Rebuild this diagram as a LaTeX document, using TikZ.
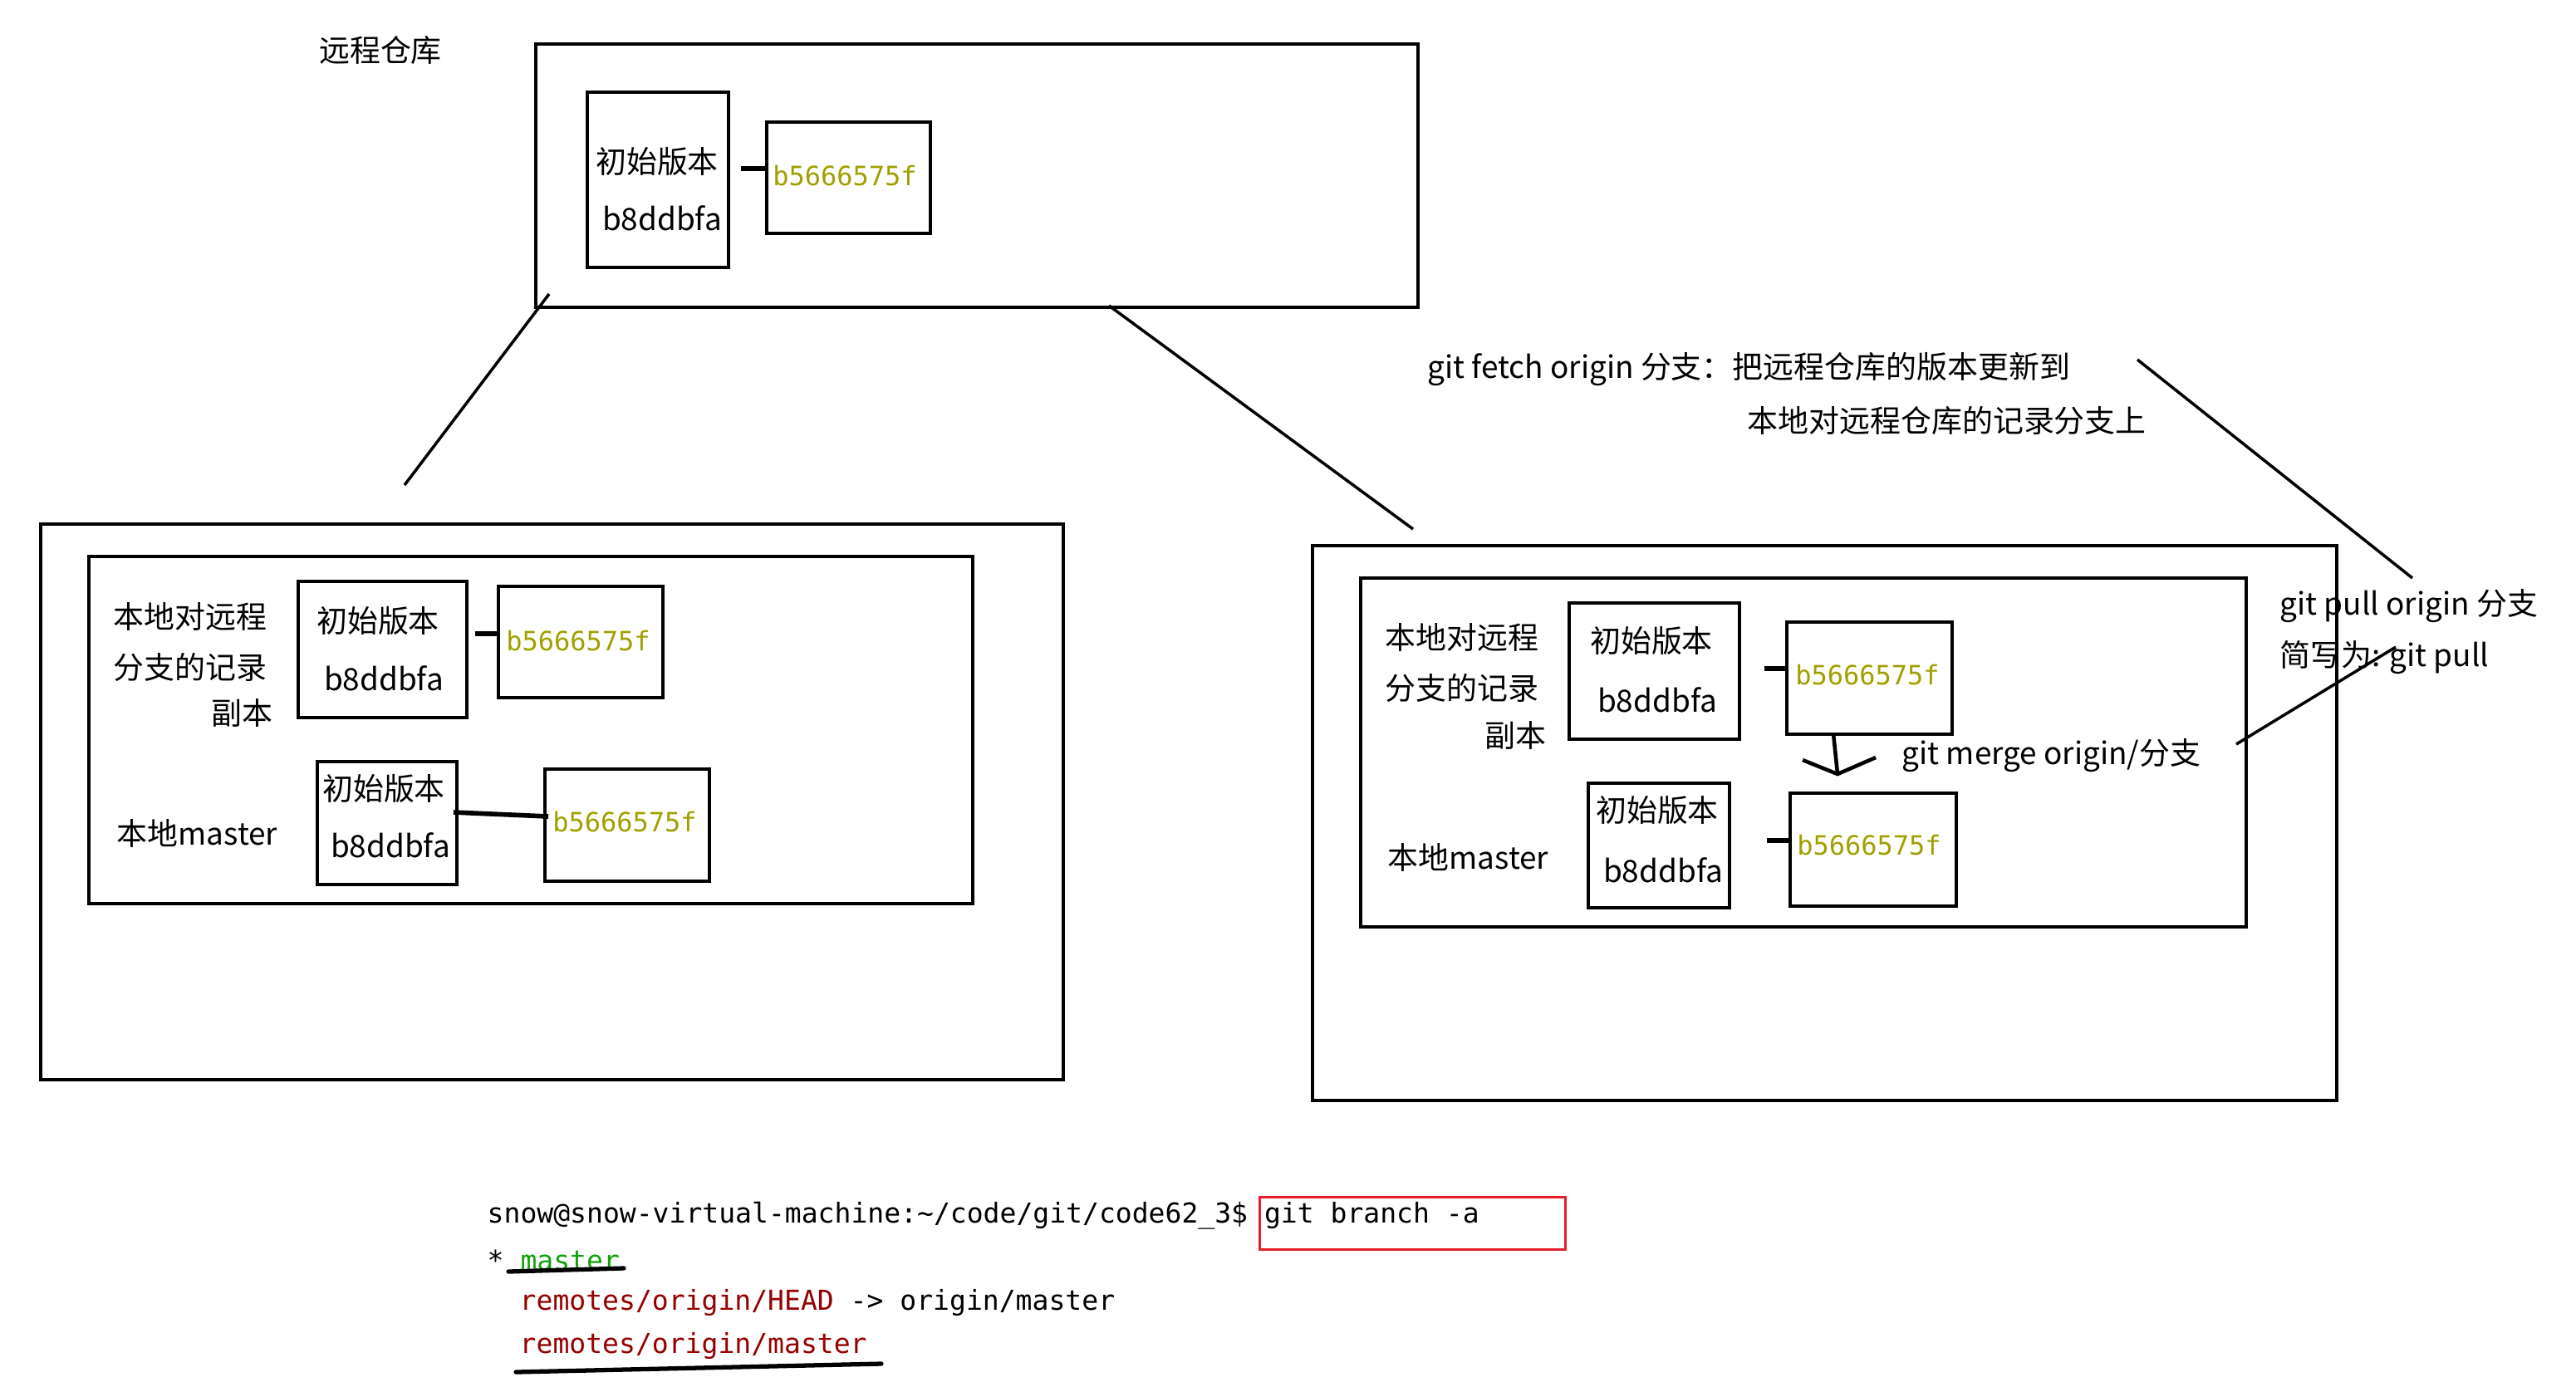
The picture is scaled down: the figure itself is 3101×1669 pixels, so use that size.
\documentclass[tikz,border=0pt]{standalone}
\usepackage{fontspec}
\setmainfont{Noto Sans CJK SC}
\newfontfamily\monof{DejaVu Sans Mono}
\definecolor{hashol}{RGB}{160,160,0}
\definecolor{termgreen}{RGB}{19,161,14}
\definecolor{termred}{RGB}{150,0,0}
\definecolor{boxred}{RGB}{230,30,40}
\newcommand\mybox[5]{\node[box, minimum width={(#4-#2)*0.01cm}, minimum height={(#5-#3)*0.01cm}] (#1) at (#2,#3) {};}
\begin{document}
\begin{tikzpicture}[x=0.01cm,y=-0.01cm,
  box/.style={draw, line width=1.2pt, inner sep=0pt, anchor=north west},
  lbl/.style={font=\fontsize{10.5}{12}\selectfont, inner sep=0pt},
  hash/.style={font=\monof\fontsize{9.1}{11}\selectfont, text=hashol, inner sep=0pt},
  term/.style={font=\monof\fontsize{9.4}{11}\selectfont, inner sep=0pt, anchor=west},
  link/.style={line width=1.6pt},
  stroke/.style={line width=1pt},
  uline/.style={line width=1.5pt, line cap=round}]
\useasboundingbox[fill=white] (0,0) rectangle (3101,1669);

% ---------- remote repository ----------
\node[lbl] (tremote) at (458,61) {远程仓库};
\mybox{R}{643}{51}{1705}{368}
\mybox{Ra}{705}{109}{875}{320}
\node[lbl] (Ra1) at (791,195) {初始版本};
\node[lbl] (Ra2) at (797,263) {b8ddbfa};
\mybox{Rb}{921}{145}{1118}{279}
\node[hash] (Rbt) at (1017,212) {b5666575f};
\coordinate (Rc) at (892,203);
\draw[link] (Rc) -- (Rc -| Rb.west);

% ---------- left local ----------
\mybox{L}{47}{629}{1278}{1298}
\mybox{Li}{105}{668}{1169}{1086}
\node[lbl, anchor=west] (Ll1) at (136,742) {本地对远程};
\node[lbl, anchor=west] (Ll2) at (136,803) {分支的记录};
\node[lbl, anchor=east] (Ll3) at (329,858) {副本};
\mybox{La}{357}{698}{560}{862}
\node[lbl] (La1) at (455,748) {初始版本};
\node[lbl] (La2) at (462,817) {b8ddbfa};
\mybox{Lb}{598}{704}{796}{838}
\node[hash] (Lbt) at (696,772) {b5666575f};
\coordinate (Lc) at (572,763);
\draw[link] (Lc) -- (Lc -| Lb.west);
\node[lbl, anchor=west] (Lm) at (140,1003) {本地master};
\mybox{Ld}{380}{915}{548}{1063}
\node[lbl] (Ld1) at (462,950) {初始版本};
\node[lbl] (Ld2) at (470,1018) {b8ddbfa};
\mybox{Le}{654}{924}{852}{1059}
\node[hash] (Let) at (752,990) {b5666575f};
\coordinate (Lc2) at (546,978);
\coordinate (Lc3) at (660,983);
\draw[link] (Lc2) -- (Lc3);

% ---------- right local ----------
\mybox{Q}{1578}{655}{2811}{1323}
\mybox{Qi}{1636}{694}{2702}{1114}
\node[lbl, anchor=west] (Ql1) at (1667,767) {本地对远程};
\node[lbl, anchor=west] (Ql2) at (1667,828) {分支的记录};
\node[lbl, anchor=east] (Ql3) at (1862,885) {副本};
\mybox{Qa}{1887}{724}{2092}{888}
\node[lbl] (Qa1) at (1988,772) {初始版本};
\node[lbl] (Qa2) at (1995,843) {b8ddbfa};
\mybox{Qb}{2149}{747}{2348}{882}
\node[hash] (Qbt) at (2248,813) {b5666575f};
\coordinate (Qc) at (2124,805);
\draw[link] (Qc) -- (Qc -| Qb.west);
\node[lbl, anchor=west] (Qm) at (1670,1032) {本地master};
\mybox{Qd}{1910}{941}{2080}{1091}
\node[lbl] (Qd1) at (1995,975) {初始版本};
\node[lbl] (Qd2) at (2002,1048) {b8ddbfa};
\mybox{Qe}{2153}{953}{2353}{1089}
\node[hash] (Qet) at (2250,1018) {b5666575f};
\coordinate (Qc2) at (2127,1012);
\draw[link] (Qc2) -- (Qc2 -| Qe.west);
% merge arrow
\coordinate (Ma) at (2207,883);
\coordinate (Mb) at (2212,932);
\coordinate (Ml) at (2170,915);
\coordinate (Mr) at (2258,912);
\draw[stroke, line width=1.3pt] (Ma) -- (Mb);
\draw[stroke, line width=1.3pt] (Ml) -- (Mb) -- (Mr);
\node[lbl, anchor=west] (merge) at (2289,910) {git merge origin/分支};

% ---------- annotations ----------
\node[lbl, anchor=west] (fetch1) at (1718,445) {git fetch origin 分支：把远程仓库的版本更新到};
\node[lbl, anchor=west] (fetch2) at (2103,506) {本地对远程仓库的记录分支上};
\node[lbl, anchor=west] (pull1) at (2744,730) {git pull origin 分支};
\node[lbl, anchor=west] (pull2) at (2744,792) {简写为: git pull};

\coordinate (s1a) at (661,354); \coordinate (s1b) at (487,584);
\coordinate (s2a) at (1335,368); \coordinate (s2b) at (1701,637);
\coordinate (s3a) at (2573,433); \coordinate (s3b) at (2904,696);
\coordinate (s4a) at (2692,896); \coordinate (s4b) at (2884,779);
\draw[stroke] (s1a) -- (s1b);
\draw[stroke] (s2a) -- (s2b);
\draw[stroke] (s3a) -- (s3b);
\draw[stroke] (s4a) -- (s4b);

% ---------- terminal ----------
\node[term] (t1) at (586,1464) {snow@snow-virtual-machine:\textasciitilde/code/git/code62\_3\$ git branch -a};
\node[draw=boxred, line width=0.9pt, anchor=north west, inner sep=0pt, minimum width=3.68cm, minimum height=0.63cm] (redbox) at (1515,1440) {};
\node[term] (t2) at (586,1517) {* \textcolor{termgreen}{master}};
\node[term] (t3) at (625,1568) {\textcolor{termred}{remotes/origin/HEAD} -> origin/master};
\node[term, text=termred] (t4) at (625,1620) {remotes/origin/master};
\coordinate (u1a) at (612,1531); \coordinate (u1b) at (751,1527);
\coordinate (u2a) at (621,1652); \coordinate (u2b) at (1061,1642);
\draw[uline] (u1a) -- (u1b);
\draw[uline] (u2a) -- (u2b);
\end{tikzpicture}
\end{document}
